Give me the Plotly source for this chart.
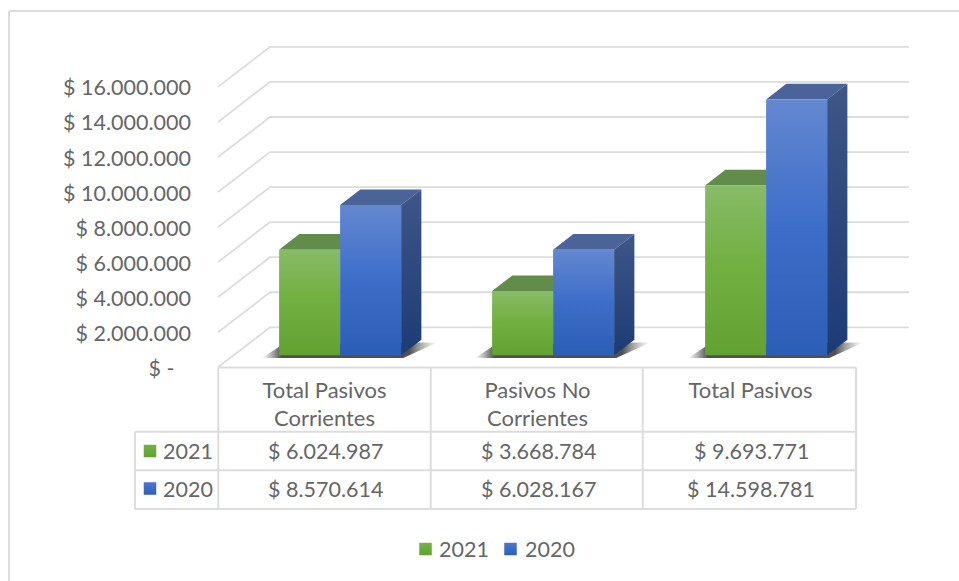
import plotly.graph_objects as go

# ---- data ----
categories = ["Total Pasivos<br>Corrientes", "Pasivos No<br>Corrientes", "Total Pasivos"]
values_2021 = [6024987, 3668784, 9693771]
values_2020 = [8570614, 6028167, 14598781]
y_ticks = [0, 2000000, 4000000, 6000000, 8000000, 10000000, 12000000, 14000000, 16000000]
y_tick_labels = ["$ -\u00a0\u00a0\u00a0", "$ 2.000.000", "$ 4.000.000", "$ 6.000.000", "$ 8.000.000",
                 "$ 10.000.000", "$ 12.000.000", "$ 14.000.000", "$ 16.000.000"]
series_names = ["2021", "2020"]

# ---- layout constants ----
W, H = 959, 581
FONT = "Lato"
FS = 21.5
TXT = "#666666"
LINE = "#dcdcdc"
X0_PX, X_UNIT = 324.5, 213.0       # pixel of category 0 on the front plane, pixels per category
Y0_PX, V_PX = 367.3, 17.525 / 1e6  # pixel of value 0 on the front plane, pixels per unit
DEPTH_X = 52.0 / X_UNIT
DEPTH_V = 40.0 / V_PX
BAR_W = 61.0 / X_UNIT
D_FRONT, D_BACK = 0.30, 0.69

GREEN = dict(
    front=[[0, "#62a231"], [0.55, "#72b042"], [1, "#88bb68"]],
    top="#618c49", side=None,
)
BLUE = dict(
    front=[[0, "#2d5eb6"], [0.5, "#3c6ec9"], [1, "#6488d0"]],
    top="#4a6398", side=[[0, "#1c3b75"], [1, "#3f5688"]],
)


def px(p):
    return p / W


def py(p):
    return 1 - p / H


def project(x, v, d):
    return x + d * DEPTH_X, v + d * DEPTH_V


def poly(points, color=None, grad=None, gtype="vertical"):
    xs, ys = zip(*[project(*p) for p in points + points[:1]])
    t = dict(x=list(xs), y=list(ys), mode="lines", fill="toself", line=dict(width=0),
             hoverinfo="skip", showlegend=False)
    if grad:
        t["fillgradient"] = dict(type=gtype, colorscale=grad)
    else:
        t["fillcolor"] = color
    return go.Scatter(**t)


fig = go.Figure()

# gridlines: side wall diagonals and back wall, one per axis tick
gx, gy = [], []
n = len(categories)
for v in y_ticks:
    for x, d in [(-0.5, 0), (-0.5, 1), (n - 0.5, 1)]:
        a, b = project(x, v, d)
        gx.append(a)
        gy.append(b)
    gx.append(None)
    gy.append(None)
fig.add_trace(go.Scatter(x=gx, y=gy, mode="lines", line=dict(color=LINE, width=1.8),
                         hoverinfo="skip", showlegend=False))

# bars
shadow_grad = [[0, "rgba(110,110,110,0)"], [0.11, "rgba(80,80,80,1)"], [0.84, "rgba(80,80,80,1)"],
               [1, "rgba(150,150,150,0)"]]
for i in range(n):
    l, m, r = i - BAR_W, i, i + BAR_W
    # floor shadow
    fig.add_trace(poly([(l - 0.08, -160000, D_FRONT), (r + 0.01, -160000, D_FRONT),
                        (r + 0.075, -160000, D_BACK), (r + 0.01, -160000, D_BACK),
                        (l - 0.05, 0, D_FRONT + 0.25)], grad=shadow_grad, gtype="horizontal"))
    v1, v2 = values_2021[i], values_2020[i]
    # 2021 top + front
    fig.add_trace(poly([(l, v1, D_FRONT), (m, v1, D_FRONT), (m, v1, D_BACK), (l, v1, D_BACK)], GREEN["top"]))
    fig.add_trace(poly([(l, 0, D_FRONT), (m, 0, D_FRONT), (m, v1, D_FRONT), (l, v1, D_FRONT)], grad=GREEN["front"]))
    # 2020 top + side + front
    fig.add_trace(poly([(m, v2, D_FRONT), (r, v2, D_FRONT), (r, v2, D_BACK), (m, v2, D_BACK)], BLUE["top"]))
    fig.add_trace(poly([(r, 0, D_FRONT), (r, 0, D_BACK), (r, v2, D_BACK), (r, v2, D_FRONT)], grad=BLUE["side"]))
    fig.add_trace(poly([(m, 0, D_FRONT), (r, 0, D_FRONT), (r, v2, D_FRONT), (m, v2, D_FRONT)], grad=BLUE["front"]))

# axis ranges: the whole page is the plotting area
x_rng = [(0 - X0_PX) / X_UNIT, (W - X0_PX) / X_UNIT]
y_rng = [(Y0_PX - H) / V_PX, Y0_PX / V_PX]


def line(x0, y0, x1, y1, w=2, color=LINE):
    return dict(type="line", xref="paper", yref="paper", x0=px(x0), y0=py(y0), x1=px(x1), y1=py(y1),
                line=dict(color=color, width=w))


# frame + data table grid
ROWS_Y = [431.7, 470.3, 509]
COLS_X = [218.3, 430.7, 642.7, 856]
shapes = [line(9, 11, W, 11), line(9, 11, 9, H)]
shapes.append(line(COLS_X[0], 367.5, COLS_X[-1], 367.5))
for cx in COLS_X:
    shapes.append(line(cx, 367.5, cx, ROWS_Y[-1]))
for ry in ROWS_Y:
    shapes.append(line(135, ry, COLS_X[-1], ry))
shapes.append(line(135, ROWS_Y[0], 135, ROWS_Y[-1]))


def fmt(v):
    return "$ " + f"{v:,}".replace(",", ".")


anns = []


def text(x, y, s, anchor="center"):
    anns.append(dict(xref="paper", yref="paper", x=px(x), y=py(y), text=s, showarrow=False, xanchor=anchor,
                     yanchor="middle", font=dict(family=FONT, size=FS, color=TXT), xshift=0, yshift=0))


ROW_CY = [450.5, 489]
for row, (name, vals) in enumerate(zip(series_names, [values_2021, values_2020])):
    text(161, ROW_CY[row], name, "left")
    for i, v in enumerate(vals):
        text(X0_PX + X_UNIT * i + 0.5, ROW_CY[row], fmt(v))

LEG_TEXT_X = [437, 523]
for name, tx in zip(series_names, LEG_TEXT_X):
    text(tx, 548.5, name, "left")


# legend keys (table + bottom legend)
def key(xp, yp, c0, c1):
    fig.add_trace(go.Scatter(x=[x_rng[0] + (x_rng[1] - x_rng[0]) * px(xp)],
                             y=[y_rng[0] + (y_rng[1] - y_rng[0]) * py(yp)],
                             mode="markers", hoverinfo="skip", showlegend=False,
                             marker=dict(symbol="square", size=12.5, color=c0, line=dict(width=0),
                                         gradient=dict(type="vertical", color=c1))))


KEY_G = ("#74b243", "#62a231")
KEY_B = ("#4a78cf", "#2d5eb6")
key(150, 451, *KEY_G)
key(150, 488.5, *KEY_B)
key(425.5, 549, *KEY_G)
key(510.5, 549, *KEY_B)

fig.update_layout(
    width=W, height=H, margin=dict(l=0, r=0, t=0, b=0), paper_bgcolor="white", plot_bgcolor="white",
    showlegend=False, shapes=shapes, annotations=anns,
    font=dict(family=FONT, size=FS, color=TXT),
    xaxis=dict(range=x_rng, domain=[0, 1], anchor="free", position=py(367.5), showgrid=False, zeroline=False,
               showline=False, ticks="", tickmode="array", tickvals=list(range(n)), ticktext=categories,
               tickangle=0, ticklabelstandoff=7, tickfont=dict(family=FONT, size=22, color=TXT)),
    yaxis=dict(range=y_rng, domain=[0, 1], anchor="free", position=px(191), showgrid=False, zeroline=False,
               showline=False, ticks="", tickmode="array", tickvals=y_ticks, ticktext=y_tick_labels,
               ticklabelshift=1, tickfont=dict(family=FONT, size=FS, color=TXT)),
)

fig.write_html("out.html", config=dict(displayModeBar=False),
               post_script="document.body.style.margin='0';document.body.style.overflow='hidden';")
